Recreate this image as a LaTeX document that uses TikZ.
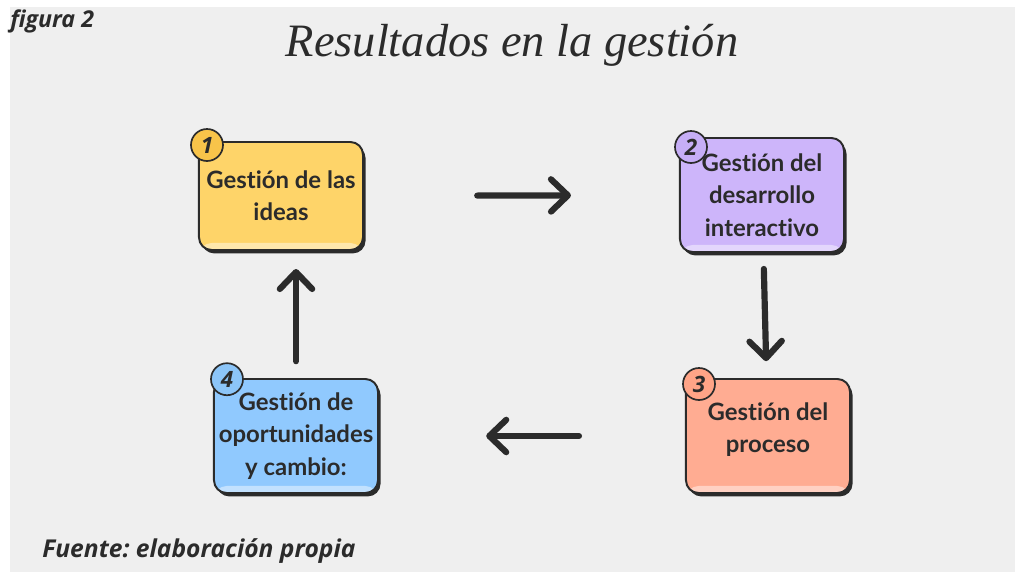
\documentclass[tikz,border=0pt]{standalone}
\usepackage{fontspec}
\setsansfont{Lato}[Ligatures=NoCommon]
\newfontfamily\notefont{Open Sans}
\newfontfamily\titlefont{Liberation Serif}
\usepackage{tikz}
\usetikzlibrary{positioning,arrows.meta,shadows}
\definecolor{pageGray}{HTML}{EFEFEF}
\definecolor{inkDark}{HTML}{2B2B2B}
\definecolor{ideaYellow}{HTML}{FED469}
\definecolor{ideaBadge}{HTML}{F8C44A}
\definecolor{devPurple}{HTML}{CDB5FA}
\definecolor{devBadge}{HTML}{C6AEF6}
\definecolor{procSalmon}{HTML}{FFAC92}
\definecolor{procBadge}{HTML}{FFA487}
\definecolor{oppBlue}{HTML}{90C9FE}
\definecolor{oppBadge}{HTML}{8CC5F8}
\frenchspacing

\begin{document}
\begin{tikzpicture}[
  x=0.025cm, y=-0.025cm,
  stage/.style={rectangle, draw=inkDark, line width=1.4pt, rounded corners=9pt,
                fill=#1, align=center, minimum width=4.1cm, minimum height=2.85cm,
                inner sep=2pt, text=inkDark,
                font=\sffamily\bfseries\fontsize{17}{23}\selectfont,
                general shadow={fill=inkDark, shadow xshift=1.8pt, shadow yshift=-2.4pt},
                path picture={\fill[#1!55!white]
                  ([yshift=-1pt]path picture bounding box.south west) rectangle
                  ([yshift=5pt]path picture bounding box.south east);}},
  badge/.style={circle, draw=inkDark, line width=1.2pt, fill=#1,
                minimum size=0.8cm, inner sep=0pt, text=inkDark,
                font=\notefont\bfseries\itshape\fontsize{16}{16}\selectfont},
  arr/.style={-{Straight Barb[length=12pt,width=23pt,line cap=round,line join=round]},
              line width=4.4pt, line cap=round, inkDark},
  note/.style={anchor=west, inner sep=0pt, text=inkDark}
]

% page
\useasboundingbox (0,0) rectangle (1015,572);
\fill[pageGray] (10,7) rectangle (1015,572);

\node[note, font=\notefont\bfseries\itshape\fontsize{16.5}{18}\selectfont]
  (fig) at (10,21) {figura 2};
\node[text=inkDark, font=\titlefont\itshape\fontsize{33}{38}\selectfont]
  (title) at (512,45) {Resultados en la gestión};

% stages
\node[stage=ideaYellow, minimum height=2.7cm] (ideas) at (281,196)
  {Gestión de las\\ideas};
\node[stage=devPurple] (desarrollo) at (762,195)
  {Gestión del\\desarrollo\\interactivo};
\node[stage=procSalmon] (proceso) at (768,436)
  {Gestión del\\proceso\\[-11pt]\mbox{}};
\node[stage=oppBlue] (oportunidades) at (296,436)
  {Gestión de\\oportunidades\\y cambio:};

% numbers
\node[badge=ideaBadge] (n1) at ([xshift=0.225cm,yshift=-0.1cm]ideas.north west) {1};
\node[badge=devBadge] (n2) at ([xshift=0.3cm,yshift=-0.25cm]desarrollo.north west) {2};
\node[badge=procBadge] (n3) at ([xshift=0.35cm,yshift=-0.15cm]proceso.north west) {3};
\node[badge=oppBadge] (n4) at ([xshift=0.35cm,yshift=-0.03cm]oportunidades.north west) {4};

% cycle
\draw[arr, shorten <=2.83cm, shorten >=2.7cm] (ideas) -- (desarrollo);
\draw[arr, shorten <=0.4cm, shorten >=0.42cm] (desarrollo) -- (proceso);
\draw[arr, shorten <=2.65cm, shorten >=2.68cm] (proceso) -- (oportunidades);
\draw[arr, shorten <=0.42cm, shorten >=0.45cm]
  (oportunidades.north) -- (oportunidades.north |- ideas.south);

\node[note, font=\notefont\bfseries\itshape\fontsize{17.5}{19}\selectfont]
  (src) at (42,551) {Fuente: elaboración propia};

\end{tikzpicture}
\end{document}
